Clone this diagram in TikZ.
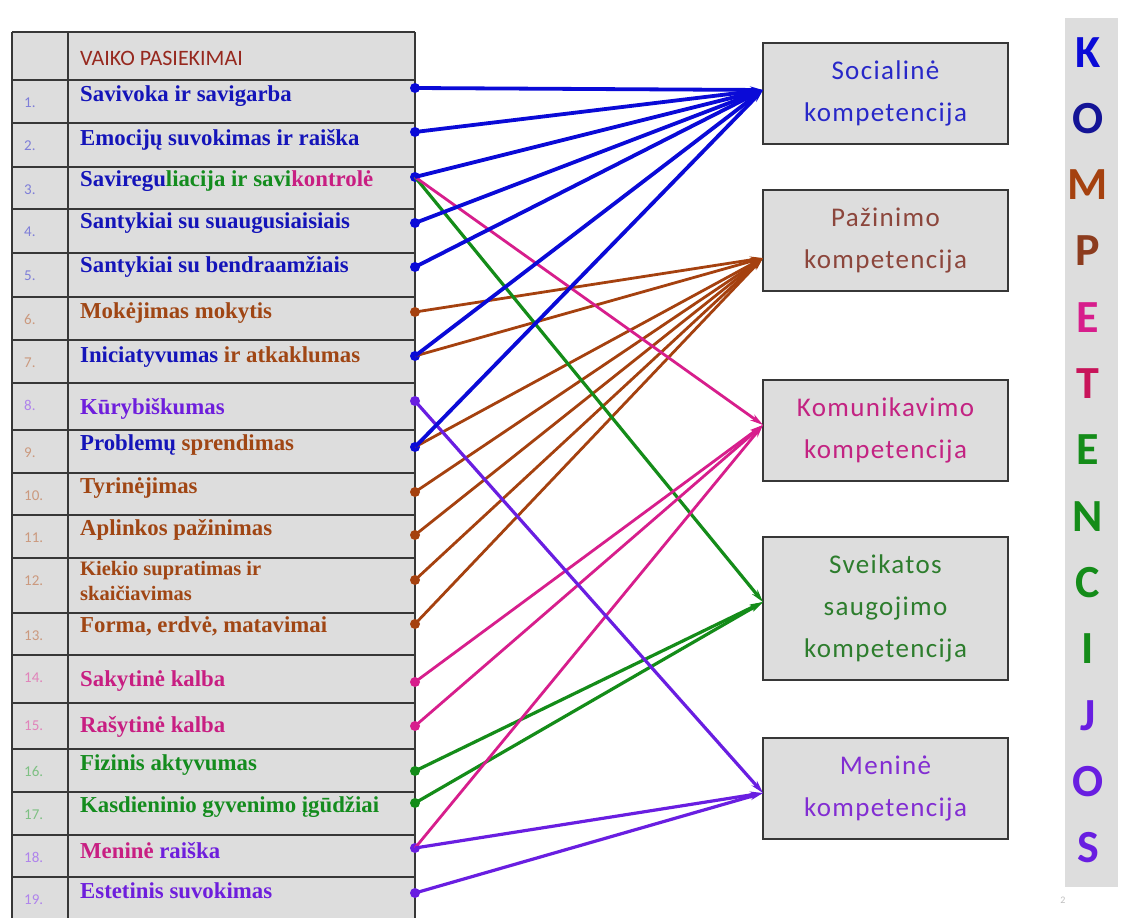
\documentclass[tikz,border=0pt]{standalone}
\usepackage{fontspec}
\setmainfont{Liberation Serif}
\newfontfamily\calib{Carlito}
\newfontfamily\calibsp{Carlito}[LetterSpace=5]
\usetikzlibrary{arrows.meta}
\definecolor{cblue}{RGB}{10,10,215}
\definecolor{cbrown}{RGB}{165,65,15}
\definecolor{cmag}{RGB}{215,30,140}
\definecolor{cgreen}{RGB}{20,140,25}
\definecolor{cviol}{RGB}{105,30,225}
\definecolor{tblue}{RGB}{20,20,185}
\definecolor{tbrown}{RGB}{160,70,20}
\definecolor{tmag}{RGB}{200,30,130}
\definecolor{tgreen}{RGB}{20,140,30}
\definecolor{tviol}{RGB}{110,30,220}
\definecolor{tabgray}{RGB}{221,221,221}
\definecolor{tabline}{RGB}{55,55,55}
\definecolor{hdr}{RGB}{150,40,30}
\definecolor{bxblue}{RGB}{40,40,200}
\definecolor{bxbrown}{RGB}{140,70,60}
\definecolor{bxmag}{RGB}{195,35,130}
\definecolor{bxgreen}{RGB}{45,125,45}
\definecolor{bxviol}{RGB}{130,45,210}
\definecolor{vnavy}{RGB}{20,20,150}
\definecolor{vbrown}{RGB}{140,60,30}
\definecolor{vcrim}{RGB}{200,20,90}
\tikzset{
  rowtxt/.style={anchor=base west, inner sep=0pt, font=\bfseries\fontsize{22.8}{22.8}\selectfont},
  rowtxtsm/.style={anchor=base west, inner sep=0pt, font=\bfseries\fontsize{20.5}{20.5}\selectfont},
  numtxt/.style={anchor=base west, inner sep=0pt, font=\calib\fontsize{15}{15}\selectfont},
  tline/.style={draw=tabline, line width=2.2pt},
  dotnode/.style={circle, inner sep=0pt, minimum size=10pt},
  arr/.style={-{Stealth[length=13pt,width=7pt]}, line width=3.2pt},
  cbox/.style={draw=tabline, fill=tabgray, line width=2.2pt, minimum width=245pt, align=center, font=\calibsp\fontsize{27}{42}\selectfont},
  vletter/.style={inner sep=0pt, anchor=base, font=\calib\bfseries\fontsize{46}{46}\selectfont}
}
\begin{document}
\begin{tikzpicture}[x=1pt,y=-1pt]
\useasboundingbox (0,0) rectangle (1122,918);
\fill[white] (0,0) rectangle (1122,918);
% table
\fill[tabgray] (12,32) rectangle (415,918);
\foreach \yy in {32,80,123,167,209,253,297,340,383,430,473,515,558,613,655,703,749,792,835,877}
  \draw[tline] (12,\yy) -- (415,\yy);
\draw[tline] (12,32) -- (12,918);
\draw[tline] (68,32) -- (68,918);
\draw[tline] (415,32) -- (415,918);
\node[anchor=base west, inner sep=0pt, text=hdr, font=\calib\fontsize{22}{22}\selectfont] (hd) at (80,65) {VAIKO PASIEKIMAI};
% numbers
\foreach \i/\t/\c in {1/80/tblue,2/123/tblue,3/167/tblue,4/209/tblue,5/253/tblue,6/297/tbrown,7/340/tbrown,8/383/tviol,9/430/tbrown,10/473/tbrown,11/515/tbrown,12/558/tbrown,13/613/tbrown,14/655/tmag,15/703/tmag,16/749/tgreen,17/792/tgreen,18/835/tviol,19/877/tviol}
  \node[numtxt, text=\c!55!white] (n\i) at (24,\t+27) {\i.};
% row texts
\node[rowtxt, text=tblue] (r1) at (80,101) {Savivoka ir savigarba};
\node[rowtxt, text=tblue] (r2) at (80,145) {Emocijų suvokimas ir raiška};
\node[rowtxt] (r3) at (80,186) {\textcolor{tblue}{Saviregu}\textcolor{tgreen}{liacija ir savi}\textcolor{tmag}{kontrolė}};
\node[rowtxt, text=tblue] (r4) at (80,228) {Santykiai su suaugusiaisiais};
\node[rowtxt, text=tblue] (r5) at (80,272) {Santykiai su bendraamžiais};
\node[rowtxt, text=tbrown] (r6) at (80,318) {Mokėjimas mokytis};
\node[rowtxt] (r7) at (80,362) {\textcolor{tblue}{Iniciatyvumas} \textcolor{tbrown}{ir atkaklumas}};
\node[rowtxt, text=tviol] (r8) at (80,414) {Kūrybiškumas};
\node[rowtxt] (r9) at (80,450) {\textcolor{tblue}{Problemų} \textcolor{tbrown}{sprendimas}};
\node[rowtxt, text=tbrown] (r10) at (80,493) {Tyrinėjimas};
\node[rowtxt, text=tbrown] (r11) at (80,535) {Aplinkos pažinimas};
\node[rowtxtsm, text=tbrown] (r12a) at (80,575) {Kiekio supratimas ir};
\node[rowtxtsm, text=tbrown] (r12b) at (80,600) {skaičiavimas};
\node[rowtxt, text=tbrown] (r13) at (80,632) {Forma, erdvė, matavimai};
\node[rowtxt, text=tmag] (r14) at (80,686) {Sakytinė kalba};
\node[rowtxt, text=tmag] (r15) at (80,732) {Rašytinė kalba};
\node[rowtxt, text=tgreen] (r16) at (80,770) {Fizinis aktyvumas};
\node[rowtxt, text=tgreen] (r17) at (80,812) {Kasdieninio gyvenimo įgūdžiai};
\node[rowtxt] (r18) at (80,858) {\textcolor{tmag}{Meninė} \textcolor{tviol}{raiška}};
\node[rowtxt, text=tviol] (r19) at (80,898) {Estetinis suvokimas};
% right boxes
\node[cbox, minimum height=101pt, text=bxblue] (soc) at (885.5,93.5) {Socialinė\\kompetencija};
\node[cbox, minimum height=101pt, text=bxbrown] (paz) at (885.5,240.5) {Pažinimo\\kompetencija};
\node[cbox, minimum height=101pt, text=bxmag] (kom) at (885.5,430.5) {Komunikavimo\\kompetencija};
\node[cbox, minimum height=143pt, text=bxgreen] (sve) at (885.5,608.5) {Sveikatos\\saugojimo\\kompetencija};
\node[cbox, minimum height=101pt, text=bxviol] (men) at (885.5,788.5) {Meninė\\kompetencija};
\coordinate (tsoc) at (763,90);
\coordinate (tpaz) at (763,258);
\coordinate (tkom) at (763,425);
\coordinate (tsve) at (763,602);
\coordinate (tmen) at (763,793);
% dots
\foreach \i/\yy/\c in {1/88/cblue,2/132/cblue,3/177/cblue,4/223/cblue,5/267/cblue,6/312/cbrown,7/356/cblue,8/401/cviol,9/447/cblue,10/492/cbrown,11/535/cbrown,12/580/cbrown,13/624/cbrown,14/682/cmag,15/726/cmag,16/771/cgreen,17/803/cgreen,18/848/cviol,19/893/cviol}
  \node[dotnode, fill=\c] (d\i) at (415,\yy) {};
% connectors
\foreach \i in {6,7,9,10,11,12,13}
  \draw[arr, cbrown, line width=2.8pt] (d\i.center) -- (tpaz);
\foreach \i in {3,16,17}
  \draw[arr, cgreen] (d\i.center) -- (tsve);
\foreach \i in {3,14,15,18}
  \draw[arr, cmag, line width=2.8pt] (d\i.center) -- (tkom);
\foreach \i in {8,18,19}
  \draw[arr, cviol] (d\i.center) -- (tmen);
\foreach \i in {1,2,3,4,5,7,9}
  \draw[arr, cblue, line width=3.8pt] (d\i.center) -- (tsoc);
% vertical title
\fill[tabgray] (1065,18) rectangle (1118,887);
\foreach \l/\c [count=\k from 0] in {K/cblue,O/vnavy,M/cbrown,P/vbrown,E/cmag,T/vcrim,E/cgreen,N/cgreen,C/cgreen,I/cgreen,J/cviol,O/cviol,S/cviol}
  \node[vletter, text=\c] (v\k) at (1088,67+66.3*\k) {\l};
\node[inner sep=0pt, text=black!25, font=\calib\fontsize{10}{10}\selectfont] (pg) at (1063,900) {2};
\end{tikzpicture}
\end{document}
